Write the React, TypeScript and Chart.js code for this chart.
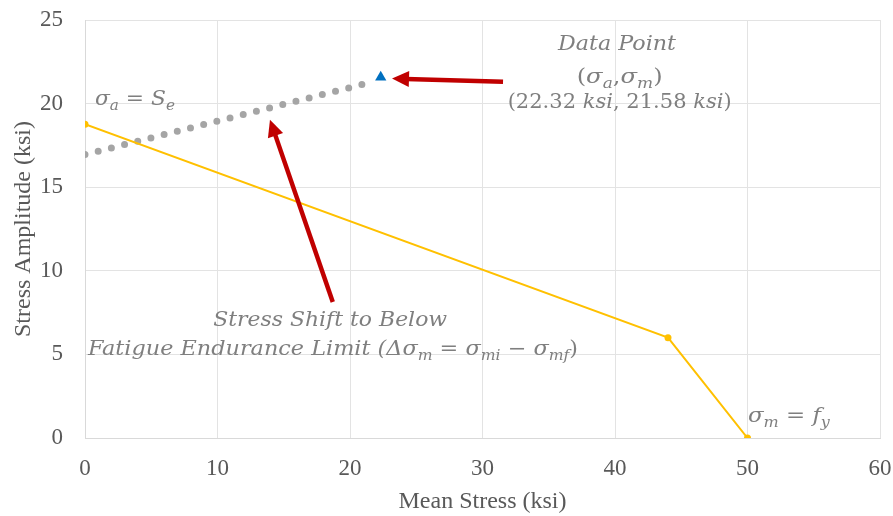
import React, { useEffect, useRef } from "react";
import { Chart, registerables } from "chart.js";
Chart.register(...registerables);

// Modified Goodman-type envelope
const envelopeMean = [0, 44, 50];
const envelopeAmp = [18.77, 6.0, 0];
// Stress shift path (dotted)
const shiftMean = [0, 21.2];
const shiftAmp = [16.95, 21.2];
// Data point
const pointMean = [22.32];
const pointAmp = [21.58];

const xTicks = [0, 10, 20, 30, 40, 50, 60];
const yTicks = [0, 5, 10, 15, 20, 25];

type Seg = [string, "i" | "r" | "s"];

const MATH_FONT = "'DejaVu Serif'";
const GRAY = "#7F7F7F";
const RED = "#C00000";

function drawRich(
  ctx: CanvasRenderingContext2D,
  segs: Seg[],
  x: number,
  y: number,
  size: number,
  align: "left" | "center",
  targetWidth?: number
) {
  const fontFor = (s: Seg[1]) =>
    s === "r"
      ? `${size}px ${MATH_FONT}`
      : s === "i"
      ? `italic ${size}px ${MATH_FONT}`
      : `italic ${Math.round(size * 0.7)}px ${MATH_FONT}`;
  let total = 0;
  const widths: number[] = [];
  for (const sg of segs) {
    ctx.font = fontFor(sg[1]);
    const w = ctx.measureText(sg[0]).width;
    widths.push(w);
    total += w;
  }
  const sx = targetWidth ? targetWidth / total : 1;
  const drawW = total * sx;
  let cx = align === "center" ? x - drawW / 2 : x;
  ctx.save();
  ctx.fillStyle = GRAY;
  ctx.textBaseline = "alphabetic";
  ctx.textAlign = "left";
  segs.forEach((sg, i) => {
    ctx.font = fontFor(sg[1]);
    ctx.save();
    ctx.translate(cx, y + (sg[1] === "s" ? size * 0.25 : 0));
    ctx.scale(sx, 1);
    ctx.fillText(sg[0], 0, 0);
    ctx.restore();
    cx += widths[i] * sx;
  });
  ctx.restore();
}

function arrow(
  ctx: CanvasRenderingContext2D,
  x1: number,
  y1: number,
  x2: number,
  y2: number
) {
  const ang = Math.atan2(y2 - y1, x2 - x1);
  const hl = 17;
  const hw = 8;
  const bx = x2 - hl * Math.cos(ang);
  const by = y2 - hl * Math.sin(ang);
  ctx.save();
  ctx.strokeStyle = RED;
  ctx.fillStyle = RED;
  ctx.lineWidth = 4.5;
  ctx.beginPath();
  ctx.moveTo(x1, y1);
  ctx.lineTo(bx + 3 * Math.cos(ang), by + 3 * Math.sin(ang));
  ctx.stroke();
  ctx.beginPath();
  ctx.moveTo(x2, y2);
  ctx.lineTo(bx + hw * Math.sin(ang), by - hw * Math.cos(ang));
  ctx.lineTo(bx - hw * Math.sin(ang), by + hw * Math.cos(ang));
  ctx.closePath();
  ctx.fill();
  ctx.restore();
}

const annotations = {
  id: "annotations",
  afterDatasetsDraw(chart: any) {
    const ctx: CanvasRenderingContext2D = chart.ctx;
    const xs = chart.scales.x;
    const ys = chart.scales.y;
    const px = (v: number) => xs.getPixelForValue(v);
    const py = (v: number) => ys.getPixelForValue(v);

    arrow(ctx, px(31.55), py(21.3), px(23.17), py(21.5));
    arrow(ctx, px(18.7), py(8.14), px(13.96), py(19.04));

    drawRich(
      ctx,
      [["σ", "i"], ["a", "s"], [" = ", "r"], ["S", "i"], ["e", "s"]],
      px(0.75),
      py(19.9),
      20,
      "left",
      80
    );
    drawRich(ctx, [["Data Point", "i"]], px(40.15), py(23.2), 20, "center", 118);
    drawRich(
      ctx,
      [["(", "r"], ["σ", "i"], ["a", "s"], [",", "r"], ["σ", "i"], ["m", "s"], [")", "r"]],
      px(40.35),
      py(21.25),
      20,
      "center",
      86
    );
    drawRich(
      ctx,
      [["(22.32 ", "r"], ["ksi", "i"], [", 21.58 ", "r"], ["ksi", "i"], [")", "r"]],
      px(40.35),
      py(19.75),
      20,
      "center",
      224
    );
    drawRich(ctx, [["Stress Shift to Below", "i"]], px(18.5), py(6.7), 20, "center", 234);
    drawRich(
      ctx,
      [
        ["Fatigue Endurance Limit (Δ", "i"],
        ["σ", "i"],
        ["m", "s"],
        [" = ", "r"],
        ["σ", "i"],
        ["mi", "s"],
        [" − ", "r"],
        ["σ", "i"],
        ["mf", "s"],
        [")", "r"],
      ],
      px(0.23),
      py(4.97),
      20,
      "left",
      490
    );
    drawRich(
      ctx,
      [["σ", "i"], ["m", "s"], [" = ", "r"], ["f", "i"], ["y", "s"]],
      px(50.03),
      py(0.95),
      20,
      "left",
      82
    );
  },
};

export default function App() {
  const ref = useRef<HTMLCanvasElement>(null);
  useEffect(() => {
    if (!ref.current) return;
    const tickFont = { family: "'Liberation Serif'", size: 23 };
    const titleFont = { family: "'Liberation Serif'", size: 24 };
    const chart = new Chart(ref.current, {
      type: "scatter",
      data: {
        datasets: [
          {
            label: "Shift",
            data: shiftMean.map((x, i) => ({ x, y: shiftAmp[i] })),
            showLine: true,
            borderColor: "#A5A5A5",
            borderWidth: 7,
            borderDash: [0, 13.6],
            borderCapStyle: "round",
            pointRadius: 0,
            order: 2,
          },
          {
            label: "Envelope",
            data: envelopeMean.map((x, i) => ({ x, y: envelopeAmp[i] })),
            showLine: true,
            borderColor: "#FFC000",
            backgroundColor: "#FFC000",
            borderWidth: 2,
            pointRadius: 3.5,
            pointBorderWidth: 0,
            order: 1,
          },
          {
            label: "Data Point",
            data: pointMean.map((x, i) => ({ x, y: pointAmp[i] })),
            pointStyle: "triangle",
            pointRadius: 6.5,
            backgroundColor: "#0070C0",
            borderColor: "#0070C0",
            borderWidth: 0,
            order: 0,
          },
        ],
      } as any,
      options: {
        animation: false,
        responsive: false,
        maintainAspectRatio: false,
        layout: { padding: { top: 20, right: 13, left: 0, bottom: 0 } },
        plugins: { legend: { display: false }, tooltip: { enabled: false } },
        scales: {
          x: {
            type: "linear",
            min: 0,
            max: 60,
            afterBuildTicks: (s: any) => {
              s.ticks = xTicks.map((v) => ({ value: v }));
            },
            afterFit: (s: any) => {
              s.height = 78;
              s.paddingLeft = 0;
              s.paddingRight = 0;
            },
            grid: { color: "#E3E3E3", drawTicks: false, lineWidth: 1 },
            border: { color: "#D9D9D9" },
            ticks: { font: tickFont, color: "#595959", padding: 17 },
            title: {
              display: true,
              text: "Mean Stress (ksi)",
              font: titleFont,
              color: "#595959",
              padding: { top: 0, bottom: 0 },
            },
          },
          y: {
            type: "linear",
            min: 0,
            max: 25,
            afterBuildTicks: (s: any) => {
              s.ticks = yTicks.map((v) => ({ value: v }));
            },
            afterFit: (s: any) => {
              s.width = 85;
              s.paddingTop = 0;
              s.paddingBottom = 0;
            },
            grid: { color: "#E3E3E3", drawTicks: false, lineWidth: 1 },
            border: { color: "#D9D9D9" },
            ticks: { font: tickFont, color: "#595959", padding: 22 },
            title: {
              display: true,
              text: "Stress Amplitude (ksi)",
              font: titleFont,
              color: "#595959",
              padding: { top: 9, bottom: 0 },
            },
          },
        },
      } as any,
      plugins: [annotations],
    });
    return () => chart.destroy();
  }, []);
  return (
    <div style={{ position: "fixed", left: 0, top: 0, width: 893, height: 516, background: "#fff" }}>
      <canvas ref={ref} width={893} height={516} style={{ display: "block" }} />
    </div>
  );
}
